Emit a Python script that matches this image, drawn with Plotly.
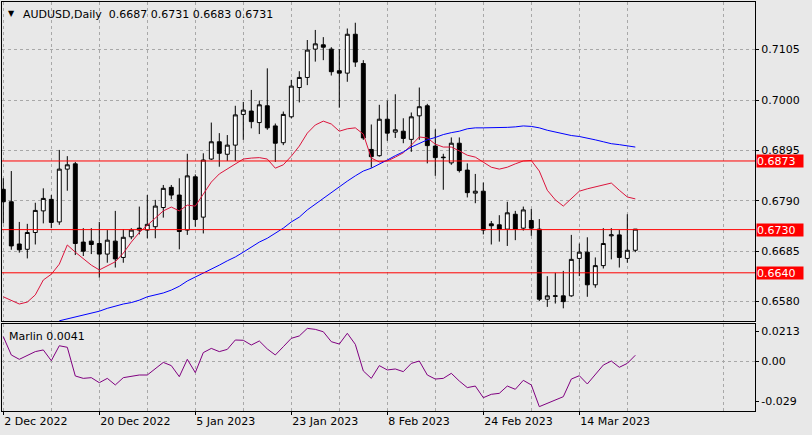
import plotly.graph_objects as go
import pandas as pd

FONT = "DejaVu Sans"

# ---- data -----------------------------------------------------------------
dates = pd.bdate_range("2022-12-02", periods=80)

open_ = [0.6814, 0.6788, 0.6700, 0.6689, 0.6724, 0.6769, 0.6793, 0.6746, 0.6856, 0.6867,
         0.6704, 0.6706, 0.6701, 0.6679, 0.6706, 0.6672, 0.6715, 0.6733, 0.6729, 0.6736,
         0.6776, 0.6818, 0.6802, 0.6729, 0.6840, 0.6756, 0.6877, 0.6913, 0.6887, 0.6906,
         0.6970, 0.6977, 0.6953, 0.6988, 0.6946, 0.6911, 0.6965, 0.7026, 0.7047, 0.7106,
         0.7115, 0.7106, 0.7061, 0.7056, 0.7137, 0.7076, 0.6897, 0.6884, 0.6960, 0.6933,
         0.6935, 0.6918, 0.6967, 0.6988, 0.6904, 0.6881, 0.6869, 0.6910, 0.6854, 0.6806,
         0.6810, 0.6742, 0.6740, 0.6731, 0.6762, 0.6733, 0.6749, 0.6731, 0.6585, 0.6591,
         0.6592, 0.6592, 0.6670, 0.6683, 0.6615, 0.6655, 0.6717, 0.6719, 0.6670, 0.6687]
high = [0.6837, 0.6852, 0.6746, 0.6742, 0.6786, 0.6816, 0.6802, 0.6896, 0.6883, 0.6871,
        0.6733, 0.6733, 0.6746, 0.6729, 0.6769, 0.6731, 0.6733, 0.6778, 0.6802, 0.6792,
        0.6823, 0.6823, 0.6837, 0.6888, 0.6845, 0.6889, 0.6953, 0.6931, 0.6927, 0.6988,
        0.6996, 0.7021, 0.6999, 0.7066, 0.6951, 0.6976, 0.7042, 0.7060, 0.7125, 0.7146,
        0.7131, 0.7110, 0.7106, 0.7149, 0.7161, 0.7083, 0.6949, 0.6990, 0.6999, 0.7012,
        0.6962, 0.6974, 0.7026, 0.6992, 0.6939, 0.6888, 0.6922, 0.6922, 0.6868, 0.6846,
        0.6828, 0.6748, 0.6760, 0.6788, 0.6769, 0.6778, 0.6773, 0.6752, 0.6633, 0.6640,
        0.6644, 0.6719, 0.6701, 0.6714, 0.6672, 0.6733, 0.6733, 0.6729, 0.6762, 0.6731]
low = [0.6743, 0.6688, 0.6682, 0.6670, 0.6699, 0.6743, 0.6733, 0.6740, 0.6811, 0.6677,
       0.6675, 0.6679, 0.6630, 0.6661, 0.6651, 0.6661, 0.6710, 0.6720, 0.6712, 0.6712,
       0.6755, 0.6793, 0.6689, 0.6719, 0.6736, 0.6722, 0.6875, 0.6861, 0.6873, 0.6873,
       0.6917, 0.6941, 0.6929, 0.6938, 0.6871, 0.6906, 0.6962, 0.6995, 0.7031, 0.7080,
       0.7083, 0.7051, 0.6984, 0.7038, 0.7069, 0.6917, 0.6859, 0.6882, 0.6915, 0.6921,
       0.6910, 0.6892, 0.6917, 0.6868, 0.6842, 0.6813, 0.6865, 0.6849, 0.6797, 0.6785,
       0.6720, 0.6699, 0.6705, 0.6696, 0.6708, 0.6728, 0.6717, 0.6581, 0.6569, 0.6576,
       0.6566, 0.6590, 0.6633, 0.6590, 0.6609, 0.6649, 0.6668, 0.6651, 0.6661, 0.6683]
close = [0.6788, 0.6696, 0.6688, 0.6724, 0.6770, 0.6795, 0.6745, 0.6856, 0.6865, 0.6701,
         0.6685, 0.6699, 0.6679, 0.6708, 0.6669, 0.6714, 0.6729, 0.6729, 0.6741, 0.6779,
         0.6816, 0.6802, 0.6726, 0.6842, 0.6751, 0.6875, 0.6913, 0.6889, 0.6906, 0.6969,
         0.6979, 0.6955, 0.6990, 0.6942, 0.6910, 0.6970, 0.7029, 0.7047, 0.7104, 0.7117,
         0.7110, 0.7059, 0.7056, 0.7137, 0.7079, 0.6921, 0.6882, 0.6960, 0.6931, 0.6938,
         0.6920, 0.6965, 0.6986, 0.6905, 0.6880, 0.6880, 0.6910, 0.6853, 0.6807, 0.6810,
         0.6729, 0.6738, 0.6731, 0.6765, 0.6731, 0.6771, 0.6733, 0.6585, 0.6592, 0.6592,
         0.6580, 0.6668, 0.6683, 0.6615, 0.6655, 0.6701, 0.6719, 0.6672, 0.6687, 0.6731]

ma_fast = [0.6590, 0.6583, 0.6575, 0.6579, 0.6594, 0.6625, 0.6637, 0.6658, 0.6698, 0.6683,
           0.6669, 0.6656, 0.6646, 0.6654, 0.6663, 0.6681, 0.6704, 0.6724, 0.6739, 0.6754,
           0.6769, 0.6777, 0.6769, 0.6781, 0.6779, 0.6804, 0.6829, 0.6846, 0.6856, 0.6867,
           0.6877, 0.6879, 0.6880, 0.6877, 0.6858, 0.6865, 0.6883, 0.6904, 0.6931, 0.6948,
           0.6956, 0.6950, 0.6935, 0.6940, 0.6942, 0.6929, 0.6879, 0.6871, 0.6873, 0.6881,
           0.6890, 0.6906, 0.6923, 0.6921, 0.6908, 0.6902, 0.6902, 0.6894, 0.6885, 0.6881,
           0.6871, 0.6860, 0.6856, 0.6860, 0.6867, 0.6873, 0.6874, 0.6852, 0.6812, 0.6792,
           0.6779, 0.6794, 0.6810, 0.6815, 0.6819, 0.6823, 0.6827, 0.6812, 0.6798, 0.6794]

ma_slow = [None, None, None, None, None, None, None,
           0.6540, 0.6544, 0.6549, 0.6553, 0.6557, 0.6560, 0.6566, 0.6571, 0.6575, 0.6578,
           0.6583, 0.6590, 0.6594, 0.6598, 0.6604, 0.6612, 0.6623, 0.6631, 0.6640, 0.6648,
           0.6656, 0.6665, 0.6673, 0.6683, 0.6694, 0.6704, 0.6712, 0.6723, 0.6733, 0.6746,
           0.6756, 0.6771, 0.6783, 0.6796, 0.6808, 0.6819, 0.6831, 0.6842, 0.6852, 0.6858,
           0.6866, 0.6875, 0.6884, 0.6892, 0.6902, 0.6910, 0.6917, 0.6922, 0.6928, 0.6932,
           0.6935, 0.6940, 0.6942, 0.6942, 0.6942, 0.6943, 0.6943, 0.6944, 0.6946, 0.6945,
           0.6942, 0.6937, 0.6933, 0.6929, 0.6926, 0.6924, 0.6921, 0.6917, 0.6913, 0.6909,
           0.6907, 0.6904, 0.6902]

marlin = [0.0174, 0.0043, 0.0012, 0.0038, 0.0067, 0.0079, 0.0002, 0.0109, 0.0098, -0.0107,
          -0.0124, -0.0119, -0.0155, -0.0124, -0.0171, -0.0119, -0.0107, -0.0100, -0.0100, -0.0052,
          -0.0010, -0.0033, -0.0112, 0.0012, -0.0083, 0.0060, 0.0090, 0.0067, 0.0083, 0.0150,
          0.0148, 0.0114, 0.0143, 0.0086, 0.0043, 0.0102, 0.0162, 0.0179, 0.0233, 0.0226,
          0.0209, 0.0138, 0.0121, 0.0198, 0.0119, -0.0071, -0.0124, -0.0033, -0.0064, -0.0057,
          -0.0076, -0.0017, 0.0000, -0.0100, -0.0129, -0.0124, -0.0088, -0.0143, -0.0190, -0.0179,
          -0.0262, -0.0238, -0.0231, -0.0179, -0.0202, -0.0138, -0.0171, -0.0326, -0.0302, -0.0274,
          -0.0255, -0.0129, -0.0105, -0.0164, -0.0100, -0.0029, 0.0000, -0.0045, -0.0017, 0.0041]

levels = [0.6873, 0.6730, 0.6640]
price_ticks = [0.6580, 0.6685, 0.6790, 0.6895, 0.7000, 0.7105]
price_tick_text = ["0.6580", "0.6685", "0.6790", "0.6895", "0.7000", "0.7105"]
marlin_ticks = [-0.029, 0.0, 0.0213]
marlin_tick_text = ["-0.029", "0.00", "0.0213"]
date_tick_text = ["2 Dec 2022", "20 Dec 2022", "5 Jan 2023", "23 Jan 2023",
                  "8 Feb 2023", "24 Feb 2023", "14 Mar 2023"]
date_tick_dates = ["2022-12-02", "2022-12-20", "2023-01-05", "2023-01-23",
                   "2023-02-08", "2023-02-24", "2023-03-14"]

# ---- figure ---------------------------------------------------------------
xs = list(range(len(dates)))
date_index = {d.strftime("%Y-%m-%d"): i for i, d in enumerate(dates)}
tick_pos = [date_index[d] for d in date_tick_dates]
grid_pos = [p + 6 for p in tick_pos] + [tick_pos[-1] + 18]

BG = "#E8E8E8"
GRID = "#A8A8A8"

fig = go.Figure()

fig.add_trace(go.Candlestick(
    x=xs, open=open_, high=high, low=low, close=close,
    increasing=dict(line=dict(color="black", width=1), fillcolor="white"),
    decreasing=dict(line=dict(color="black", width=1), fillcolor="black"),
    whiskerwidth=0, xaxis="x", yaxis="y", showlegend=False, hoverinfo="skip"))

fig.add_trace(go.Scatter(x=xs, y=ma_fast, mode="lines",
                         line=dict(color="#DC143C", width=1),
                         xaxis="x", yaxis="y", showlegend=False, hoverinfo="skip"))
fig.add_trace(go.Scatter(x=xs, y=ma_slow, mode="lines",
                         line=dict(color="#0000FF", width=1),
                         xaxis="x", yaxis="y", showlegend=False, hoverinfo="skip"))
fig.add_trace(go.Scatter(x=xs, y=marlin, mode="lines",
                         line=dict(color="#800080", width=1),
                         xaxis="x2", yaxis="y2", showlegend=False, hoverinfo="skip"))

for lv in levels:
    fig.add_shape(type="line", xref="x domain", x0=0, x1=1, yref="y", y0=lv, y1=lv,
                  line=dict(color="#FF0000", width=1), layer="above")
    fig.add_annotation(xref="paper", x=1, xanchor="left", xshift=1,
                       yref="y", y=lv, yanchor="middle",
                       text=f"{lv:.4f}", showarrow=False,
                       bgcolor="#FF0000", borderpad=0, width=46, height=12, align="left",
                       font=dict(family=FONT, size=11, color="white"))

fig.add_annotation(xref="paper", x=0, xanchor="left", xshift=4,
                   yref="paper", y=1, yanchor="top", yshift=-5,
                   text="▼", showarrow=False, font=dict(family=FONT, size=8, color="black"))
fig.add_annotation(xref="paper", x=0, xanchor="left", xshift=19,
                   yref="paper", y=1, yanchor="top", yshift=-4,
                   text="AUDUSD,Daily  %.4f %.4f %.4f %.4f" % (open_[-1], high[-1], low[-1], close[-1]),
                   showarrow=False, font=dict(family=FONT, size=11, color="black"))
fig.add_annotation(xref="paper", x=0, xanchor="left", xshift=5,
                   yref="y2 domain", y=1, yanchor="top", yshift=-4,
                   text="Marlin %.4f" % marlin[-1],
                   showarrow=False, font=dict(family=FONT, size=11, color="black"))

xcommon = dict(range=[-0.1625, 93.96], showline=True, linecolor="black", linewidth=1,
               mirror=True, zeroline=False, showgrid=True, gridcolor=GRID, griddash="3px,3px",
               gridwidth=1, tickmode="array",
               minor=dict(tickmode="array", tickvals=grid_pos, showgrid=True,
                          gridcolor=GRID, griddash="3px,3px", gridwidth=1, ticks=""))

fig.update_layout(
    width=812, height=435,
    margin=dict(l=2, r=57, t=2, b=24),
    paper_bgcolor=BG, plot_bgcolor=BG,
    font=dict(family=FONT, size=11, color="black"),
    showlegend=False,
    xaxis=dict(**xcommon, domain=[0, 1], anchor="y", tickvals=tick_pos,
               showticklabels=False, ticks="", rangeslider=dict(visible=False)),
    xaxis2=dict(**xcommon, domain=[0, 1], anchor="y2", matches="x", tickvals=tick_pos,
                ticktext=date_tick_text, ticks="outside", ticklen=3, tickcolor="black",
                ticklabelposition="outside right"),
    yaxis=dict(domain=[0.22005, 1], range=[0.65396, 0.72042], side="right",
               tickmode="array", tickvals=price_ticks, ticktext=price_tick_text,
               ticks="outside", ticklen=3, tickcolor="black",
               showline=True, linecolor="black", linewidth=1, mirror=True,
               showgrid=True, gridcolor=GRID, griddash="3px,3px", zeroline=False),
    yaxis2=dict(domain=[0, 0.21271], range=[-0.035714, 0.026429], side="right",
                tickmode="array", tickvals=marlin_ticks, ticktext=marlin_tick_text,
                ticks="outside", ticklen=3, tickcolor="black",
                showline=True, linecolor="black", linewidth=1, mirror=True,
                showgrid=False, zeroline=False,
                minor=dict(tickmode="array", tickvals=[0.0], showgrid=True,
                           gridcolor=GRID, griddash="3px,3px", ticks="")),
)

fig.write_html("out.html", config={"displayModeBar": False},
               post_script="document.body.style.margin='0';document.body.style.background='%s';" % BG)
